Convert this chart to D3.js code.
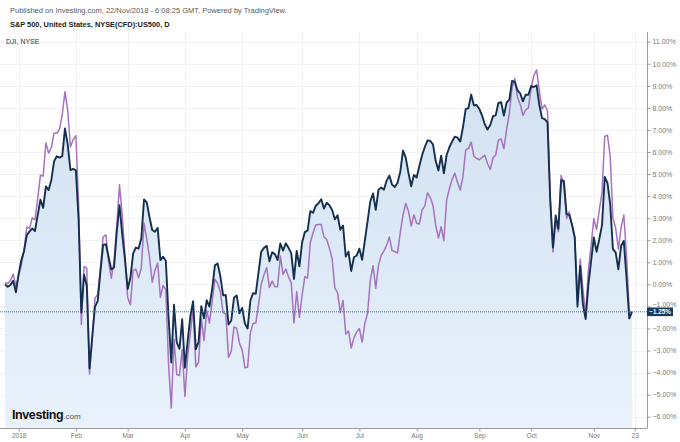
<!DOCTYPE html>
<html><head><meta charset="utf-8">
<script src="https://cdn.jsdelivr.net/npm/d3@7"></script>
<style>
html,body{margin:0;padding:0;background:#fff;}
svg{display:block;font-family:"Liberation Sans",Arial,sans-serif;}
</style></head>
<body><svg id="c" width="680" height="442"></svg>
<script>
// S&P 500 daily closes, 22 Dec 2017 .. 21 Nov 2018 (trading-day index -5 .. 225)
const spxClose = [
2683.34,2680.50,2682.62,2687.54,2673.61,
2695.81,2713.06,2723.99,2743.15,2747.71,2751.29,2748.23,2767.56,2786.24,2776.42,2802.56,2798.03,2810.30,2832.97,2839.13,2837.54,2839.25,2872.87,2853.53,2822.43,2823.81,
2821.98,2762.13,2648.94,2695.14,2681.66,2581.00,2619.55,2656.00,2662.94,2698.63,2731.20,2732.22,2716.26,2701.33,2703.96,2747.30,2779.60,2744.28,2713.83,
2677.67,2691.25,2720.94,2728.12,2726.80,2738.97,2786.57,2783.02,2765.31,2749.48,2747.33,2752.01,2712.92,2716.94,2711.93,2643.69,2588.26,2658.55,2612.62,2605.00,2640.87,
2581.88,2614.45,2644.69,2662.84,2604.47,2613.16,2656.87,2642.19,2663.99,2656.30,2677.84,2706.39,2708.64,2693.13,2670.14,2670.29,2634.56,2639.40,2666.94,2669.91,2648.05,
2654.80,2635.67,2629.73,2663.42,2672.63,2671.92,2697.79,2723.07,2727.72,2730.13,2711.45,2722.46,2720.13,2712.97,2733.01,2724.44,2733.29,2727.76,2721.33,2689.86,2724.01,2705.27,
2734.62,2746.87,2748.80,2772.35,2770.37,2779.03,2782.00,2786.85,2775.63,2782.49,2779.66,2773.75,2762.59,2767.32,2749.76,2754.88,2717.07,2723.06,2699.63,2716.31,2718.37,
2726.71,2713.22,2736.61,2759.82,2784.17,2793.84,2774.02,2798.29,2801.31,2798.43,2809.55,2815.62,2804.49,2801.83,2806.98,2820.40,2846.07,2837.44,2818.82,2802.60,2816.29,
2813.36,2827.22,2840.35,2850.40,2858.45,2857.70,2853.58,2833.28,2821.93,2839.96,2818.37,2840.69,2850.13,2857.05,2862.96,2861.82,2856.98,2874.69,2896.74,2897.52,2914.04,2901.13,2901.52,
2896.72,2888.60,2878.05,2871.68,2877.13,2887.89,2888.92,2904.18,2904.98,2888.80,2904.31,2907.95,2930.75,2929.67,2919.37,2915.56,2905.97,2914.00,2913.98,
2924.59,2923.43,2925.51,2901.61,2885.57,2884.43,2880.34,2785.68,2728.37,2767.13,2750.79,2809.92,2809.21,2768.78,2767.78,2755.88,2740.69,2656.10,2705.57,2658.69,2641.25,2682.63,2711.74,
2740.37,2723.06,2738.31,2755.45,2813.89,2806.83,2781.01,2726.22,2722.18,2701.58,2730.20,2736.27,2690.73,2641.89,2649.93
];
// DJI daily closes, same days (overlay series on its own hidden scale)
const djiClose = [
24754.06,24746.21,24774.30,24837.51,24719.22,
24824.01,24922.68,25075.13,25295.87,25283.00,25385.80,25369.13,25574.73,25803.19,25792.86,26115.65,26017.81,26071.72,26214.60,26210.81,26252.12,26392.79,26616.71,26439.48,26076.89,26149.39,
26186.71,25520.96,24345.75,24912.77,24893.35,23860.46,24190.90,24601.27,24640.45,24893.49,25200.37,25219.38,24964.75,24797.78,24962.48,25309.99,25709.27,25410.03,25029.20,
24608.98,24538.06,24874.76,24884.12,24801.36,24895.21,25335.74,25178.61,25007.03,24758.12,24873.66,24946.51,24610.91,24727.27,24682.31,23957.89,23533.20,24202.60,23857.71,23848.42,24103.11,
23644.19,24033.36,24264.30,24505.22,23932.76,23979.10,24407.85,24189.45,24483.05,24360.14,24573.04,24786.63,24748.07,24664.89,24462.94,24448.69,24024.13,24083.83,24322.34,24311.19,24163.15,
24099.05,23924.98,23930.15,24262.51,24357.32,24360.21,24542.54,24739.53,24831.17,24899.41,24706.41,24768.93,24713.98,24715.09,25013.29,24834.41,24886.81,24811.76,24753.09,24361.45,24667.78,24415.84,
24635.21,24813.69,24799.98,25146.39,25241.41,25316.53,25322.31,25320.73,25201.20,25175.31,25090.48,24987.47,24700.21,24657.80,24461.70,24580.89,24252.80,24283.11,24117.59,24216.05,24271.41,
24307.18,24174.82,24356.74,24456.48,24776.59,24919.66,24700.45,24924.89,25019.41,25064.36,25119.89,25199.29,25064.50,25058.12,25044.29,25241.94,25414.10,25527.07,25451.06,25306.83,25415.19,
25333.82,25326.16,25462.58,25502.18,25628.91,25583.75,25509.23,25313.14,25187.70,25299.92,25162.41,25558.73,25669.32,25758.69,25822.29,25733.60,25656.98,25790.35,26049.64,26064.02,26124.57,25986.92,25964.82,
25952.48,25974.99,25995.87,25916.54,25857.07,25971.06,25998.92,26145.99,26154.67,26062.12,26246.96,26405.76,26656.98,26743.50,26562.05,26492.21,26385.28,26439.93,26458.31,
26651.21,26773.94,26828.39,26627.48,26447.05,26486.78,26430.57,25598.74,25052.83,25339.99,25250.55,25798.42,25706.68,25379.45,25444.34,25317.41,25191.43,24583.42,24984.55,24688.31,24442.92,24874.64,25115.76,
25380.74,25270.83,25461.70,25635.01,26180.30,26191.22,25989.30,25387.18,25286.49,25080.50,25289.27,25413.22,25017.44,24465.64,24464.69
];
const firstIndex = -5; // 22 Dec 2017 ; index 0 = 2 Jan 2018
const xTickIndex  = [0, 21, 40, 61, 82, 104, 125, 146, 169, 188, 211, 226];
const xTickLabels = ["2018","Feb","Mar","Apr","May","Jun","Jul","Aug","Sep","Oct","Nov","23"];
const yTickValues = [11,10,9,8,7,6,5,4,3,2,1,0,-1,-2,-3,-4,-5,-6];
// DJI overlay autoscale: index level -> position on the % axis
const djiScaleDomain = [23533.2, 26828.39];
const djiScalePct    = [-5.6, 9.72];

const headerLine1 = "Published on Investing.com, 22/Nov/2018 - 6:08:25 GMT, Powered by TradingView.";
const headerLine2 = "S&P 500, United States, NYSE(CFD):US500, D";
const overlayName = "DJI, NYSE";

const svg = d3.select("#c");
const plotL = 0, plotR = 647, plotT = 32, plotB = 428;

const x = d3.scaleLinear().domain([-5, 225]).range([5, 632]);
const y = d3.scaleLinear().domain([-6, 11]).range([416.7, 41.7]);
const djiToPct = d3.scaleLinear().domain(djiScaleDomain).range(djiScalePct);

const spxPct = spxClose.map(v => (v / spxClose[0] - 1) * 100);
const spxData = spxPct.map((v, i) => ({i: i + firstIndex, v}));
const djiData = djiClose.map((v, i) => ({i: i + firstIndex, v: djiToPct(v)}));

// defs gradient
const defs = svg.append("defs");
const grad = defs.append("linearGradient").attr("id","g").attr("gradientUnits","userSpaceOnUse")
  .attr("x1",0).attr("x2",0).attr("y1",80).attr("y2",plotB);
grad.append("stop").attr("offset","0").attr("stop-color","#d2e1f1");
grad.append("stop").attr("offset","1").attr("stop-color","#e9f2fc");

// grid
const grid = svg.append("g");
grid.selectAll("line.h").data(yTickValues).join("line")
  .attr("x1", plotL).attr("x2", plotR)
  .attr("y1", d => Math.round(y(d)) + 0.5).attr("y2", d => Math.round(y(d)) + 0.5)
  .attr("stroke", "#f1f1f1").attr("stroke-width", 1);
grid.selectAll("line.v").data(xTickIndex).join("line")
  .attr("y1", plotT).attr("y2", plotB)
  .attr("x1", d => Math.round(x(d)) + 0.5).attr("x2", d => Math.round(x(d)) + 0.5)
  .attr("stroke", "#f1f1f1").attr("stroke-width", 1);

// area
const area = d3.area().x(d => x(d.i)).y0(plotB).y1(d => y(d.v));
svg.append("path").datum(spxData).attr("d", area).attr("fill", "url(#g)");

// DJI line
const line = d3.line().x(d => x(d.i)).y(d => y(d.v));
svg.append("path").datum(djiData).attr("d", line)
  .attr("fill","none").attr("stroke","#a673bf").attr("stroke-width",1.5).attr("stroke-linejoin","round");
// S&P line
svg.append("path").datum(spxData).attr("d", line)
  .attr("fill","none").attr("stroke","#15304f").attr("stroke-width",1.9).attr("stroke-linejoin","round");

// last value dotted line
const lastV = spxPct[spxPct.length - 1];
svg.append("line").attr("x1", plotL).attr("x2", plotR)
  .attr("y1", y(lastV)).attr("y2", y(lastV))
  .attr("stroke","#3f6a82").attr("stroke-width",1).attr("stroke-dasharray","1,1");

// right axis
const yAxis = d3.axisRight(y).tickValues(yTickValues).tickSize(3).tickPadding(2)
  .tickFormat(d => d3.format(".2f")(d) + "%");
const ya = svg.append("g").attr("transform", `translate(${plotR + 0.5},0)`).call(yAxis);
ya.select(".domain").attr("d", `M0,${plotT}V${plotB}`).attr("stroke","#9a9a9a");
ya.selectAll(".tick line").attr("stroke","#9a9a9a");
ya.selectAll(".tick text").attr("fill","#7a7a7a").style("font-size","7px")
  .style("font-family","'Liberation Sans',Arial,sans-serif");
// the label just above the last-value box is partly covered by it; lift it slightly
ya.selectAll(".tick text").filter(d => d === -1).attr("dy", "0.0em");

// bottom axis
const xAxis = d3.axisBottom(x).tickValues(xTickIndex).tickSize(3).tickPadding(2)
  .tickFormat((d, k) => xTickLabels[k]);
const xa = svg.append("g").attr("transform", `translate(0,${plotB + 0.5})`).call(xAxis);
xa.select(".domain").attr("d", `M${plotL},0H${plotR + 0.5}`).attr("stroke","#9a9a9a");
xa.selectAll(".tick line").attr("stroke","#9a9a9a");
xa.selectAll(".tick text").attr("fill","#7a7a7a").style("font-size","6.5px")
  .style("font-family","'Liberation Sans',Arial,sans-serif");

// last value label
const ly = y(lastV);
svg.append("rect").attr("x", plotR).attr("y", ly - 4.3).attr("width", 26).attr("height", 8.6).attr("fill","#1b3a5b");
svg.append("text").attr("x", plotR + 13).attr("y", ly + 2.3).attr("text-anchor","middle")
  .attr("fill","#fff").style("font-size","6.3px").style("font-weight","bold")
  .text(d3.format(".2f")(lastV) + "%");

// header texts
svg.append("text").attr("x", 10).attr("y", 13).attr("fill","#5a5a5a").style("font-size","7.5px").text(headerLine1);
svg.append("text").attr("x", 10).attr("y", 27).attr("fill","#1a1a1a").style("font-size","7.4px").style("font-weight","bold").text(headerLine2);
svg.append("text").attr("x", 6).attr("y", 44).attr("fill","#333").style("font-size","7px").text(overlayName);

// logo
const logo = svg.append("text").attr("x", 12).attr("y", 419);
logo.append("tspan").attr("fill","#111").style("font-size","12.5px").style("font-weight","bold").style("letter-spacing","-0.4px").text("Investing");
logo.append("tspan").attr("fill","#555").style("font-size","8px").text(".com");
</script></body></html>
